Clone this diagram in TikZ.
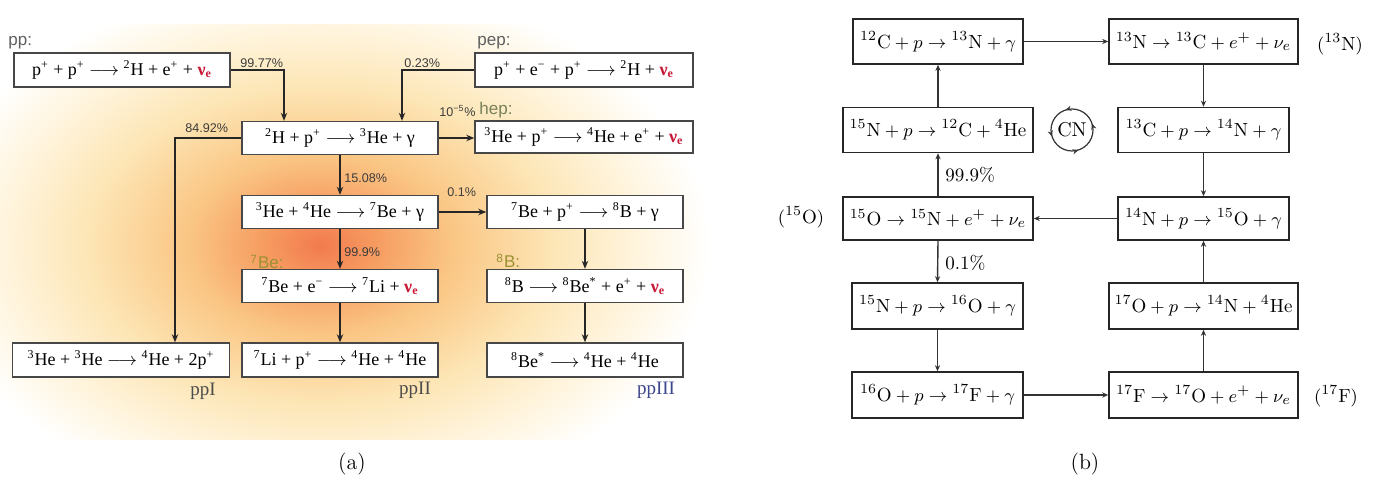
\documentclass[tikz,border=0pt]{standalone}
\usepackage{fontspec}
\newfontfamily\tnr{Liberation Serif}
\newfontfamily\arl{Liberation Sans}
\usetikzlibrary{arrows.meta,decorations.markings}
\definecolor{nured}{RGB}{200,25,55}
\definecolor{lblgray}{RGB}{95,95,95}
\definecolor{hepcol}{RGB}{120,130,90}
\definecolor{becol}{RGB}{155,145,50}
\definecolor{ppiiicol}{RGB}{60,70,140}
\definecolor{pctcol}{RGB}{60,60,60}
\definecolor{g0}{RGB}{242,122,78}
\definecolor{g1}{RGB}{246,155,96}
\definecolor{g2}{RGB}{250,198,132}
\definecolor{g3}{RGB}{253,230,182}
\definecolor{g4}{RGB}{255,246,226}
\pgfdeclareradialshading{glow}{\pgfpoint{0bp}{0bp}}{color(0bp)=(g0); color(3.5bp)=(g1); color(8.5bp)=(g2); color(15bp)=(g3); color(21bp)=(g4); color(25bp)=(white); color(50bp)=(white)}
\newcommand{\nue}{{\color{nured}\textbf{ν}\textsubscript{\textbf{e}}}}
\newcommand{\su}[1]{\textsuperscript{#1}}
\newcommand{\lra}{\(\longrightarrow\)}
\tikzset{
  lbox/.style={draw=black!72, fill=white, line width=0.7pt, inner sep=0pt,
    minimum width=98pt, minimum height=16.5pt, font=\tnr\fontsize{9}{11}\selectfont},
  rbox/.style={draw=black!85, fill=white, line width=0.8pt, inner sep=0pt,
    minimum height=22.5pt, font=\fontsize{9.5}{11}\selectfont},
  larr/.style={-{Stealth[length=4pt,width=3.2pt]}, line width=0.65pt, draw=black!85},
  rarr/.style={-{Stealth[length=3pt,width=2.6pt]}, line width=0.7pt, draw=black!80},
  pct/.style={font=\arl\fontsize{6.3}{7}\selectfont, text=pctcol, inner sep=0pt, anchor=west},
  ltag/.style={font=\arl\fontsize{8.5}{9}\selectfont, inner sep=0pt, anchor=west},
  ppname/.style={font=\tnr\fontsize{9.5}{10}\selectfont, inner sep=0pt},
  rlbl/.style={font=\fontsize{9.5}{11}\selectfont, inner sep=0pt},
  captxt/.style={font=\fontsize{11}{13}\selectfont, inner sep=0pt}
}
\begin{document}
\begin{tikzpicture}[x=0.5pt,y=-0.5pt]
\useasboundingbox (0,0) rectangle (1377,485);
% background glow of panel (a)
\begin{scope}
\clip (0,25) rectangle (725,440);
\shade[shading=glow] (320,245) ellipse [x radius=390, y radius=265];
\end{scope}

% ---------------- panel (a) ----------------
\node[lbox, minimum width=108pt, minimum height=17pt] (pp) at (122,70)
  {p\su{+} + p\su{+} \lra\ \su{2}H + e\su{+} + \nue};
\node[lbox, minimum width=109pt, minimum height=17pt] (pep) at (584,70)
  {p\su{+} + e\su{−} + p\su{+} \lra\ \su{2}H + \nue};
\node[lbox, minimum width=109pt, minimum height=16pt] (hep) at (584,137)
  {\su{3}He + p\su{+} \lra\ \su{4}He + e\su{+} + \nue};
\node[lbox] (d) at (340,138) {\su{2}H + p\su{+} \lra\ \su{3}He + γ};
\node[lbox] (e) at (340,212) {\su{3}He + \su{4}He \lra\ \su{7}Be + γ};
\node[lbox] (f) at (585,212) {\su{7}Be + p\su{+} \lra\ \su{8}B + γ};
\node[lbox] (g) at (340,286) {\su{7}Be + e\su{−} \lra\ \su{7}Li + \nue};
\node[lbox] (h) at (585,286) {\su{8}B \lra\ \su{8}Be\su{*} + e\su{+} + \nue};
\node[lbox, minimum width=108.5pt, minimum height=17pt] (p1) at (121,360)
  {\su{3}He + \su{3}He \lra\ \su{4}He + 2p\su{+}};
\node[lbox, minimum height=17pt] (p2) at (340,360) {\su{7}Li + p\su{+} \lra\ \su{4}He + \su{4}He};
\node[lbox, minimum height=17pt] (p3) at (585,360) {\su{8}Be\su{*} \lra\ \su{4}He + \su{4}He};

\node[ltag, text=lblgray] (tpp) at (8,43) {pp:};
\node[ltag, text=lblgray] (tpep) at (477,43) {pep:};
\node[ltag, text=hepcol] (thep) at (479,110) {hep:};
\node[ltag, text=becol] (tbe) at (250,262) {\su{7}Be:};
\node[ltag, text=becol] (tb) at (496,261) {\su{8}B:};

\node[pct] (c1) at (240,63) {99.77\%};
\node[pct] (c2) at (404,63) {0.23\%};
\node[pct] (c3) at (185,128) {84.92\%};
\node[pct] (c4) at (439,111) {10\su{−5}\%};
\node[pct] (c5) at (344,178) {15.08\%};
\node[pct] (c6) at (447,192) {0.1\%};
\node[pct] (c7) at (344,252) {99.9\%};

\node[ppname, text=black!70] (n1) at (203,391) {ppI};
\node[ppname, text=black!70] (n2) at (415,390) {ppII};
\node[ppname, text=ppiiicol] (n3) at (656,390) {ppIII};

\draw[larr] (pp.east) -| (284,0 |- d.north);
\draw[larr] (pep.west) -| (402,0 |- d.north);
\draw[larr] (d.west) -| (175,0 |- p1.north);
\draw[larr] (d.east) -- (d.east -| hep.west);
\draw[larr] (d.south) -- (e.north);
\draw[larr] (e.east) -- (f.west);
\draw[larr] (e.south) -- (g.north);
\draw[larr] (g.south) -- (p2.north);
\draw[larr] (f.south) -- (h.north);
\draw[larr] (h.south) -- (p3.north);

\node[captxt] (capa) at (352,464) {(a)};

% ---------------- panel (b) ----------------
\node[rbox, minimum width=85pt] (ra) at (938,41.5) {$^{12}\mathrm{C}+p\rightarrow{}^{13}\mathrm{N}+\gamma$};
\node[rbox, minimum width=94.5pt] (rb) at (1203.5,41.5) {$^{13}\mathrm{N}\rightarrow{}^{13}\mathrm{C}+e^{+}+\nu_e$};
\node[rbox, minimum width=95pt] (rc) at (938,130) {$^{15}\mathrm{N}+p\rightarrow{}^{12}\mathrm{C}+{}^{4}\mathrm{He}$};
\node[rbox, minimum width=85.5pt] (rd) at (1203.5,130) {$^{13}\mathrm{C}+p\rightarrow{}^{14}\mathrm{N}+\gamma$};
\node[rbox, minimum width=95pt, minimum height=21.5pt] (re) at (938,218.5) {$^{15}\mathrm{O}\rightarrow{}^{15}\mathrm{N}+e^{+}+\nu_e$};
\node[rbox, minimum width=85.5pt, minimum height=21.5pt] (rf) at (1203.5,218.5) {$^{14}\mathrm{N}+p\rightarrow{}^{15}\mathrm{O}+\gamma$};
\node[rbox, minimum width=85.5pt, minimum height=23pt] (rg) at (937.5,306) {$^{15}\mathrm{N}+p\rightarrow{}^{16}\mathrm{O}+\gamma$};
\node[rbox, minimum width=94.5pt, minimum height=23pt] (ri) at (1203.5,306) {$^{17}\mathrm{O}+p\rightarrow{}^{14}\mathrm{N}+{}^{4}\mathrm{He}$};
\node[rbox, minimum width=85.5pt, minimum height=23pt] (rh) at (937.5,395) {$^{16}\mathrm{O}+p\rightarrow{}^{17}\mathrm{F}+\gamma$};
\node[rbox, minimum width=94.5pt, minimum height=23pt] (rj) at (1203.5,395) {$^{17}\mathrm{F}\rightarrow{}^{17}\mathrm{O}+e^{+}+\nu_e$};

\node[rlbl] (l13n) at (1340,44) {$(^{13}\mathrm{N})$};
\node[rlbl] (l15o) at (801,217) {$(^{15}\mathrm{O})$};
\node[rlbl] (l17f) at (1336,396) {$(^{17}\mathrm{F})$};
\node[rlbl, anchor=west] (r999) at (945,175) {99.9\%};
\node[rlbl, anchor=west] (r01) at (945,263) {0.1\%};

\node[rlbl, font=\fontsize{10}{12}\selectfont] (cn) at (1072,130) {CN};
\draw[line width=0.6pt, draw=black!80,
  decoration={markings,
    mark=at position 0.05 with {\arrow{Stealth[length=3pt,width=2.6pt]}},
    mark=at position 0.30 with {\arrow{Stealth[length=3pt,width=2.6pt]}},
    mark=at position 0.55 with {\arrow{Stealth[length=3pt,width=2.6pt]}},
    mark=at position 0.80 with {\arrow{Stealth[length=3pt,width=2.6pt]}}},
  postaction=decorate] (cn.center) circle [radius=10.5pt];

\draw[rarr] (ra.east) -- (rb.west);
\draw[rarr] (rb.south) -- (rd.north);
\draw[rarr] (rd.south) -- (rf.north);
\draw[rarr] (rf.west) -- (re.east);
\draw[rarr] (re.north) -- (rc.south);
\draw[rarr] (rc.north) -- (ra.south);
\draw[rarr] (re.south) -- (rg.north);
\draw[rarr] (rg.south) -- (rh.north);
\draw[rarr] (rh.east) -- (rj.west);
\draw[rarr] (rj.north) -- (ri.south);
\draw[rarr] (ri.north) -- (rf.south);

\node[captxt] (capb) at (1085,464) {(b)};
\end{tikzpicture}
\end{document}
